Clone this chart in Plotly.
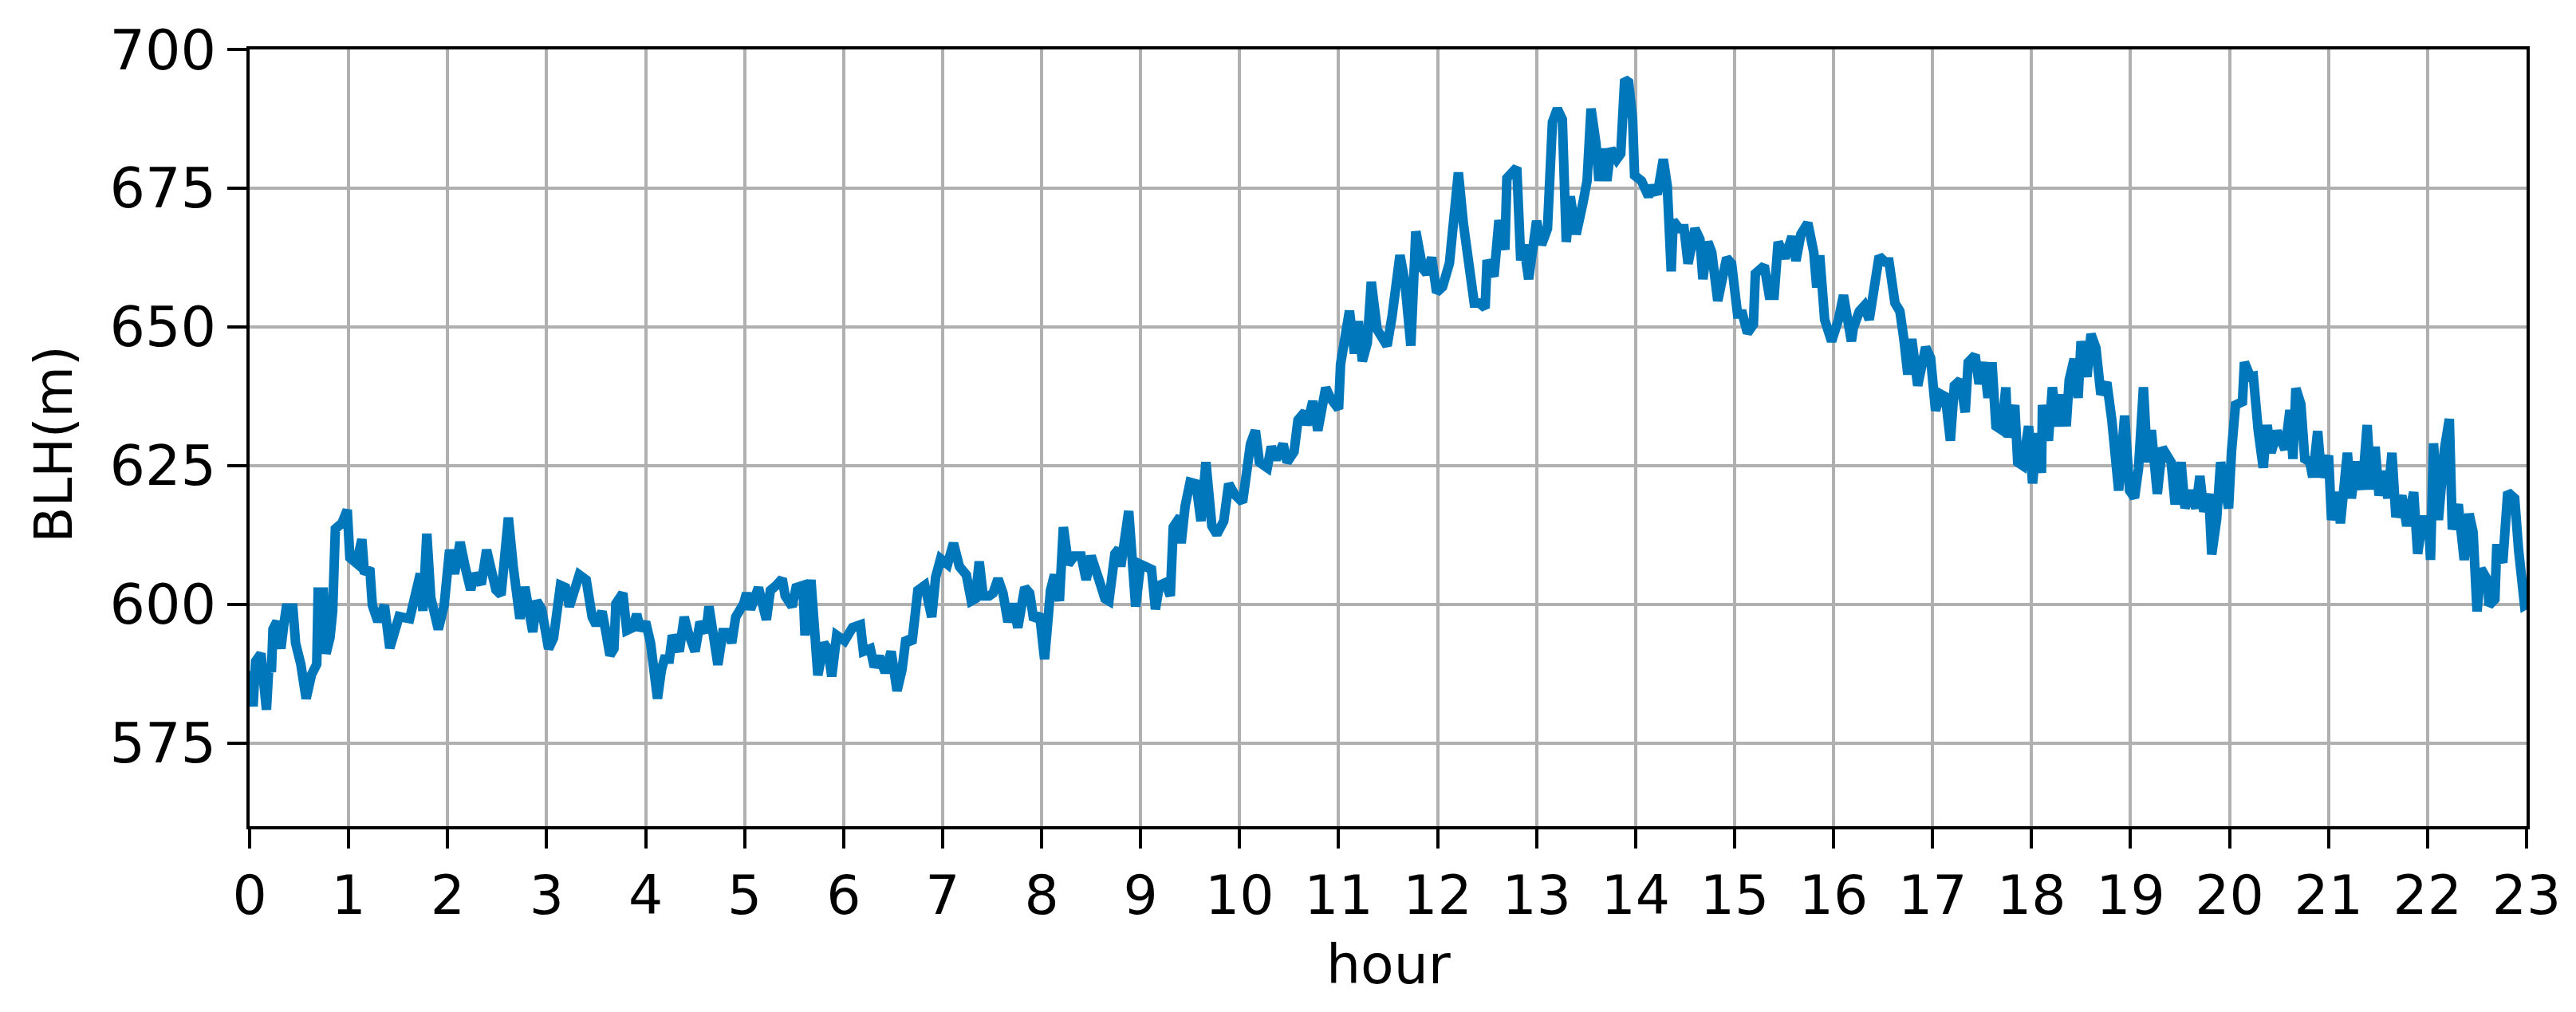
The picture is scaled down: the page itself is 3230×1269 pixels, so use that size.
import plotly.graph_objects as go

# hour of day (x) and boundary-layer height in metres (y)
hours = [
    0.00, 0.035, 0.06, 0.115, 0.17, 0.195, 0.22, 0.236, 0.276, 0.316, 0.343, 0.37, 0.437, 0.464,
    0.517, 0.571, 0.625, 0.678, 0.692, 0.745, 0.772, 0.812, 0.839, 0.866, 0.932, 0.986, 1.013,
    1.08, 1.134, 1.16, 1.214, 1.24, 1.295, 1.362, 1.416, 1.51, 1.617, 1.67, 1.724, 1.75, 1.79,
    1.83, 1.906, 1.965, 2.02, 2.07, 2.126, 2.18, 2.233, 2.273, 2.34, 2.394, 2.434, 2.488, 2.54,
    2.58, 2.614, 2.662, 2.73, 2.78, 2.82, 2.86,
    2.90, 2.95, 3.02, 3.07, 3.14, 3.19, 3.23, 3.27, 3.33, 3.40, 3.46, 3.50, 3.56, 3.60, 3.64,
    3.68, 3.70, 3.77, 3.81, 3.87, 3.91, 3.95, 4.00, 4.05, 4.12, 4.16, 4.19, 4.24, 4.27, 4.34,
    4.39, 4.43, 4.50, 4.55, 4.61, 4.64, 4.69, 4.73, 4.78, 4.84, 4.87, 4.91, 4.99, 5.02, 5.06,
    5.14, 5.22, 5.26, 5.32, 5.38, 5.41, 5.48, 5.52, 5.59, 5.61, 5.67,
    5.74, 5.80, 5.84, 5.88, 5.93, 6.01, 6.09, 6.17, 6.20, 6.27, 6.31, 6.36, 6.42, 6.48, 6.54,
    6.59, 6.63, 6.69, 6.72, 6.75, 6.82, 6.89, 6.93, 6.98, 7.05, 7.11, 7.17, 7.24, 7.29, 7.33,
    7.37, 7.41, 7.47, 7.51, 7.56, 7.61, 7.66, 7.71, 7.76, 7.80, 7.83, 7.88, 7.92, 7.98, 8.03,
    8.09, 8.13, 8.18, 8.22, 8.27, 8.33, 8.40, 8.45, 8.50, 8.54, 8.58,
    8.64, 8.68, 8.74, 8.78, 8.80, 8.88, 8.95, 9.00, 9.05, 9.11, 9.15, 9.19, 9.25, 9.30, 9.33,
    9.40, 9.41, 9.45, 9.50,
    9.56, 9.61, 9.66, 9.72, 9.77, 9.84, 9.89, 9.95, 10.03, 10.11, 10.16, 10.20, 10.28, 10.32,
    10.37, 10.44, 10.48, 10.55, 10.59, 10.66, 10.68, 10.74, 10.79, 10.87, 10.92, 11.00, 11.02,
    11.11, 11.16, 11.20, 11.24, 11.29, 11.33, 11.39, 11.49, 11.54, 11.62, 11.67, 11.73, 11.78,
    11.85, 11.89, 11.94, 11.99, 12.05, 12.12, 12.16, 12.21, 12.26, 12.32, 12.37, 12.42, 12.48,
    12.50, 12.57, 12.62, 12.68, 12.70, 12.80, 12.84, 12.87, 12.92,
    13.00, 13.05, 13.11, 13.16, 13.21, 13.26, 13.30, 13.34, 13.40, 13.47, 13.51, 13.55, 13.60,
    13.63, 13.67, 13.71, 13.75, 13.81, 13.85, 13.89, 13.93, 13.97, 13.99, 14.06, 14.13, 14.17,
    14.22, 14.28, 14.32, 14.36, 14.38, 14.44, 14.49, 14.53, 14.60, 14.65, 14.68, 14.73, 14.77,
    14.83, 14.87, 14.92, 14.97, 15.03, 15.08, 15.13, 15.19, 15.21, 15.30, 15.35, 15.40, 15.44,
    15.51, 15.58, 15.62, 15.67, 15.74, 15.80, 15.83, 15.86, 15.91, 15.98, 16.05, 16.10, 16.18,
    16.20, 16.26, 16.31, 16.36, 16.42, 16.46, 16.52, 16.56, 16.62, 16.67, 16.71, 16.75, 16.79,
    16.85, 16.89, 16.93, 16.98, 17.03, 17.08, 17.13, 17.18, 17.22,
    17.28, 17.33, 17.36, 17.43, 17.47, 17.52, 17.56, 17.60, 17.64, 17.70, 17.74, 17.76, 17.83,
    17.86, 17.91, 17.97, 18.01, 18.06, 18.10, 18.11, 18.17, 18.21, 18.26, 18.30, 18.35, 18.38,
    18.43, 18.47, 18.50, 18.56, 18.60, 18.65, 18.70, 18.76, 18.81, 18.88, 18.94, 18.99, 19.04,
    19.08, 19.13, 19.17, 19.21, 19.27, 19.32, 19.37, 19.41, 19.45, 19.51, 19.55, 19.60, 19.66,
    19.70, 19.74, 19.79, 19.82, 19.87, 19.91, 19.96, 19.99, 20.02, 20.06, 20.13, 20.15, 20.21,
    20.24, 20.29, 20.34, 20.38, 20.42, 20.48, 20.56, 20.61, 20.64, 20.67, 20.72, 20.76, 20.81,
    20.84, 20.89, 20.93, 21.00, 21.03, 21.09, 21.12, 21.19, 21.23, 21.28, 21.34, 21.39, 21.43,
    21.47, 21.51, 21.56, 21.60, 21.64, 21.68, 21.74, 21.79, 21.86, 21.90, 21.95, 22.01, 22.03,
    22.06, 22.11, 22.17, 22.22, 22.25, 22.31, 22.37, 22.42, 22.46, 22.50, 22.54, 22.61, 22.62,
    22.68, 22.70, 22.76, 22.81, 22.88, 22.92, 22.98, 23.00,
]

blh = [
    588, 581.6, 589.7, 591.1, 581, 589, 587.8, 595.5, 596.9, 592, 596, 599.3, 599.3, 593,
    589.2, 583, 587.3, 589.2, 602.2, 602.2, 591.1, 594, 598.8, 613.6, 614.6, 617, 608.4,
    607.4, 611.7, 605.5, 606.5, 599.8, 596.9, 599.8, 592.1, 597.8, 597.4, 601.7, 605.5, 598.8, 612.7,
    601.2, 595.5, 599.8, 609.8, 605.5, 611.2, 606.5, 602.6, 605.5, 603.6, 609.8, 606.9, 602.6, 601.7,
    608.4, 615.6, 606.9, 597.4, 603.1, 599.3, 595,
    600.6, 599.1, 592, 593.9, 603.4, 603, 599.6, 601.5, 605.3, 604.4, 597.7, 596.3, 598.7, 594.9, 590.8,
    592, 600.1, 602, 595.3, 595.8, 598.2, 595.3, 596.8, 593, 583, 588.2, 590.1, 590.1, 594.4, 591.5,
    597.7, 594.9, 591.5, 596.8, 594.9, 599.6, 594.4, 589.1, 594.9, 594.9, 593, 597.7, 600.1, 602, 599.1,
    603, 597.2, 602.5, 603.4, 604.6, 601.5, 599.6, 603, 603.4, 594.4, 604.4,
    587.2, 593, 592, 587, 594.4, 593.4, 595.8, 596.3, 591.5, 592, 588.7, 590.6, 587.7, 591.5, 584.4,
    588.2, 593.9, 593, 597.7, 602.5, 603.4, 597.7, 604.9, 608.2, 607.2, 611, 606.8, 605.3, 600.6, 601,
    607.7, 601.5, 601.5, 602, 604.6, 602, 596.8, 600.1, 595.8, 599.6, 603, 602, 597.2, 598.2, 590.1,
    602.5, 605.3, 600.6, 613.9, 607.2, 608.7, 608.7, 604.4, 608.7, 605.8, 604.4,
    601, 600.6, 609.1, 610, 606.8, 616.8, 599.6, 607.2, 606.8, 606.3, 599.1, 603.4, 603.9, 601.5, 613.9,
    615.8, 611, 617.7, 622,
    621.7, 615, 625.6, 614.1, 612.6, 615, 621.7, 619.8, 618.4, 628.9, 631.3, 625.6, 624.6, 628.4,
    626.1, 628.9, 625.6, 627.5, 633.2, 634.7, 632.3, 636.6, 631.3, 639, 637.1, 635.2, 643.3,
    652.9, 645.2, 651, 643.8, 647.1, 658.1, 649.5, 646.6, 651.9, 662.9, 658.1, 646.6, 667.2,
    660.5, 659.6, 662.5, 656.2, 657.2, 661.5, 671.1, 677.8, 668.7, 661.5, 654.3, 654.3, 653.4,
    662, 659.1, 669.2, 663.9, 676.8, 678.7, 662, 664.8, 658.6,
    669.1, 664.8, 667.7, 686.9, 689.3, 687.4, 665.3, 673.5, 666.7, 672.5, 676.3, 689.3, 683.1,
    676.3, 682.1, 676.3, 682.1, 680.2, 681.2, 694.6, 694.1, 687.4, 677.3, 676.3, 673.5, 675.4,
    673.9, 680.2, 675.4, 660, 669.1, 667.7, 667.7, 661.4, 667.7, 665.8, 658.6, 665.3, 663.4,
    654.7, 658.6, 662.4, 661.4, 652.3, 652.3, 648.9, 650.4, 659.6, 661, 655.7, 655.7, 665.3,
    662.4, 666.3, 661.9, 666.7, 668.7, 663.4, 657.1, 662.9, 651.3, 647.4, 651.3, 655.7, 647.4,
    649.8, 652.8, 653.8, 651.3, 657.2, 662.7, 661.7, 661.7, 654.3, 652.8, 647.8, 641.4, 647.8,
    639.4, 642.9, 646.3, 644.4, 634.9, 637.9, 637.4, 629.5, 639.4,
    640.4, 634.6, 643.6, 644.9, 639.7, 643.6, 637.2, 643.6, 632.1, 631.4, 639.1, 630.1, 635.9,
    625.6, 625, 632.1, 621.8, 630.8, 623.7, 635.9, 629.5, 639.1, 632.1, 637.8, 632.1, 640.4,
    644.2, 637.2, 647.4, 641, 648.7, 646.2, 637.8, 640, 633.3, 620.5, 634, 620.5, 619.2,
    624.4, 639.1, 625.6, 631.4, 619.9, 628.2, 626.9, 625.6, 618, 625.6, 617.3, 620.5, 617.3,
    623.1, 616.7, 619.9, 609, 615.4, 625.6, 619.2, 617.3, 627.6, 635.9, 636.5, 643.6, 641,
    641.1, 631.2, 624.6, 632.3, 627.3, 631.2, 627.9, 635, 626.2, 638.9, 636.1, 626.2, 625.7,
    622.9, 631.2, 622.9, 626.8, 615.2, 620.2, 614.6, 627.3, 619.1, 625.7, 620.7, 632.3, 620.7,
    628.4, 619.6, 624, 619.1, 627.3, 615.7, 619.6, 614.1, 620.2, 609.1, 615.2, 615.2, 608,
    629, 615.2, 627.9, 633.4, 613.5, 618, 608, 616.3, 613, 598.7, 606.4, 604.2, 599.8,
    600.9, 610.8, 607.5, 620.2, 619.1, 609.7, 599.8, 600,
]

x_ticks = list(range(0, 24))
y_ticks = [575, 600, 625, 650, 675, 700]

FONT = "DejaVu Sans"

fig = go.Figure()
fig.add_trace(go.Scatter(
    x=hours, y=blh, mode="lines",
    line=dict(color="#0077bb", width=12),
    showlegend=False,
))

axis_common = dict(
    showline=True, linecolor="black", linewidth=4, mirror=True,
    ticks="outside", ticklen=24, tickwidth=4, tickcolor="black",
    showgrid=True, gridcolor="#b0b0b0", gridwidth=4,
    zeroline=False,
)

fig.update_xaxes(range=[0, 23], tickvals=x_ticks, ticktext=[str(t) for t in x_ticks],
                 tickfont=dict(family=FONT, size=68, color="black"), **axis_common)
fig.update_yaxes(range=[560, 700], tickvals=y_ticks, ticktext=[str(t) for t in y_ticks],
                 tickfont=dict(family=FONT, size=70, color="black"), **axis_common)

fig.update_layout(
    width=3222, height=1261,
    margin=dict(l=305, r=62, t=54, b=233),
    paper_bgcolor="white", plot_bgcolor="white",
    font=dict(family=FONT, color="black"),
    annotations=[
        dict(text="hour", xref="paper", yref="paper", x=0.5, y=-0.1786,
             xanchor="center", yanchor="middle", showarrow=False,
             font=dict(family=FONT, size=68, color="black")),
        dict(text="BLH(m)", xref="paper", yref="paper", x=-0.0858, y=0.491,
             xanchor="center", yanchor="middle", textangle=-90, showarrow=False,
             font=dict(family=FONT, size=66, color="black")),
    ],
)

fig.write_html("out.html")
